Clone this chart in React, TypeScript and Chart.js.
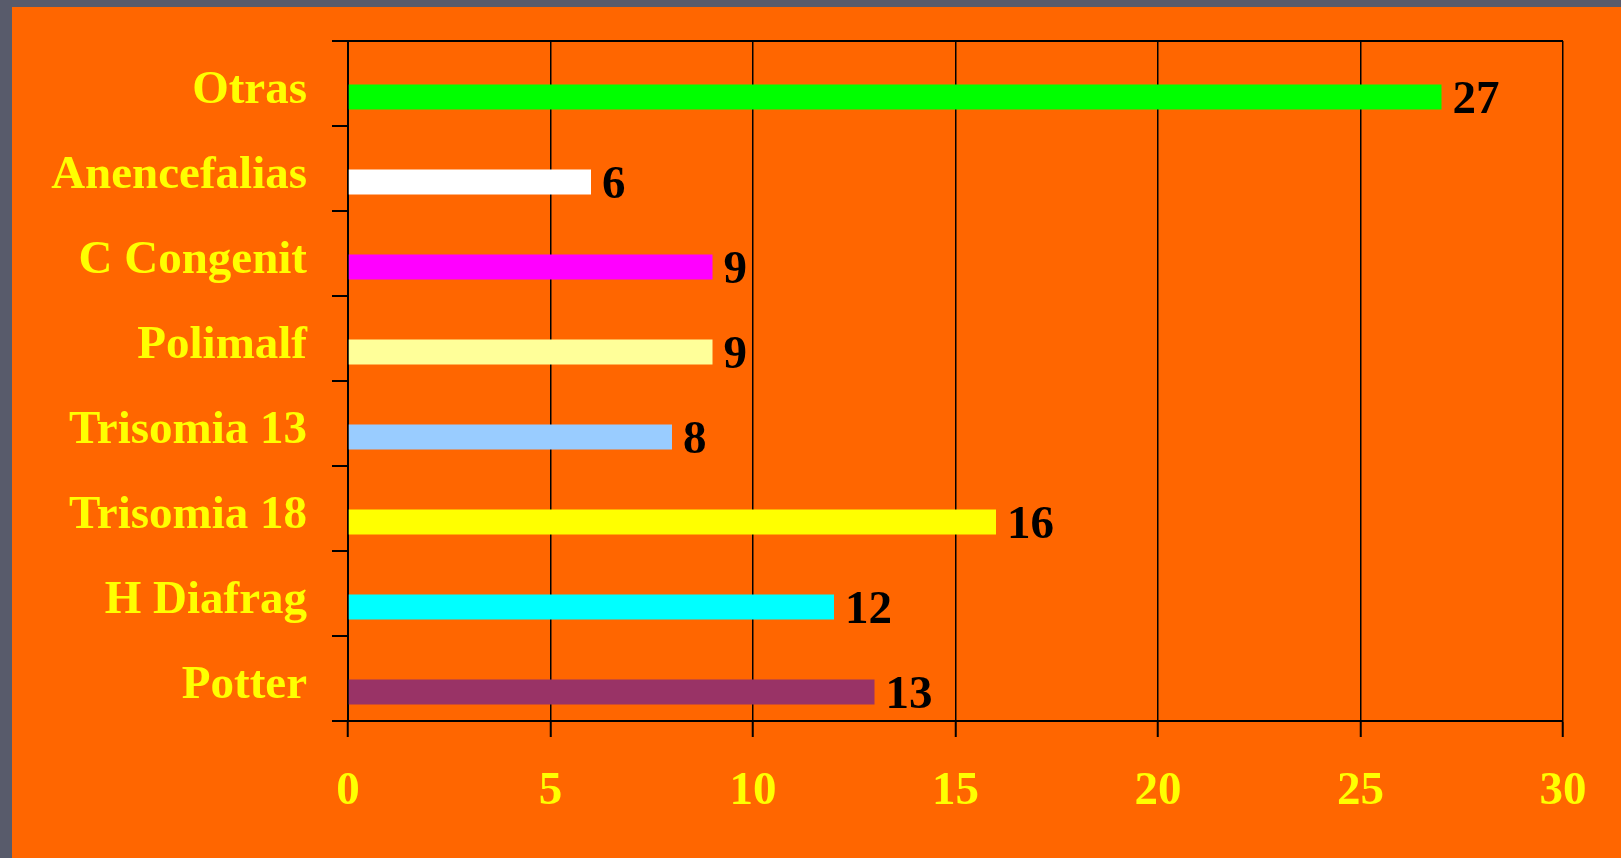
import React, { useEffect, useRef } from "react";
import { Chart, registerables } from "chart.js";

Chart.register(...registerables);

const categories = ["Otras", "Anencefalias", "C Congenit", "Polimalf", "Trisomia 13", "Trisomia 18", "H Diafrag", "Potter"];
const values = [27, 6, 9, 9, 8, 16, 12, 13];
const barColors = ["#00FF00", "#FFFFFF", "#FF00FF", "#FFFF99", "#99CCFF", "#FFFF00", "#00FFFF", "#993366"];
const xTicks = [0, 5, 10, 15, 20, 25, 30];

const FONT = "'Liberation Serif', 'Times New Roman', serif";

const valueLabels = {
  id: "valueLabels",
  afterDatasetsDraw(chart: any) {
    const meta = chart.getDatasetMeta(1);
    const ctx = chart.ctx;
    ctx.save();
    ctx.font = `bold 47px ${FONT}`;
    ctx.fillStyle = "#000000";
    ctx.textAlign = "left";
    ctx.textBaseline = "middle";
    meta.data.forEach((bar: any, i: number) => {
      ctx.fillText(String(values[i]), bar.x + 11, bar.y + 4);
    });
    ctx.restore();
  },
};

export default function App() {
  const ref = useRef<HTMLCanvasElement | null>(null);
  useEffect(() => {
    document.body.style.margin = "0";
    const chart = new Chart(ref.current as HTMLCanvasElement, {
      type: "bar",
      data: {
        labels: categories,
        datasets: [
          { label: "spacer", data: categories.map(() => null), backgroundColor: "transparent" },
          {
            label: "values",
            data: values,
            backgroundColor: barColors,
            borderWidth: 0,
          },
        ],
      },
      options: {
        indexAxis: "y",
        animation: false,
        responsive: false,
        maintainAspectRatio: false,
        categoryPercentage: 0.635,
        barPercentage: 0.926,
        layout: { padding: { left: 0, top: 41, right: 58, bottom: 0 } },
        plugins: { legend: { display: false }, tooltip: { enabled: false }, title: { display: false } },
        scales: {
          x: {
            type: "linear",
            min: 0,
            max: 30,
            afterBuildTicks(scale: any) {
              scale.ticks = xTicks.map((v) => ({ value: v }));
            },
            afterFit(scale: any) {
              scale.height = 137;
              scale.paddingLeft = 0;
              scale.paddingRight = 0;
            },
            grid: {
              color: "#000000",
              lineWidth: 1.5,
              drawTicks: true,
              tickLength: 16,
              tickColor: "#000000",
              tickWidth: 2,
            },
            border: { display: true, color: "#000000", width: 2 },
            ticks: {
              color: "#FFFF00",
              font: { family: FONT, size: 47, weight: "bold" },
              padding: 27,
              maxRotation: 0,
              autoSkip: false,
            },
          },
          y: {
            type: "category",
            offset: true,
            afterFit(scale: any) {
              scale.width = 348;
              scale.paddingTop = 0;
              scale.paddingBottom = 0;
            },
            grid: {
              offset: true,
              color: (c: any) => (c.index === 0 ? "#000000" : "transparent"),
              lineWidth: 2,
              drawTicks: true,
              tickLength: 16,
              tickColor: "#000000",
              tickWidth: 2,
            },
            border: { display: true, color: "#000000", width: 2 },
            ticks: {
              color: "#FFFF00",
              font: { family: FONT, size: 47, weight: "bold" },
              padding: 25,
              labelOffset: 7,
              autoSkip: false,
            },
          },
        },
      },
      plugins: [valueLabels],
    } as any);
    return () => chart.destroy();
  }, []);

  return (
    <div style={{ position: "fixed", left: 0, top: 0, width: 1621, height: 858, background: "#585B6B", overflow: "hidden" }}>
      <div style={{ position: "absolute", left: 12, top: 7, right: 0, bottom: 0, background: "#FF6600" }} />
      <canvas ref={ref} width={1621} height={858} style={{ position: "absolute", left: 0, top: 0, width: 1621, height: 858 }} />
    </div>
  );
}
